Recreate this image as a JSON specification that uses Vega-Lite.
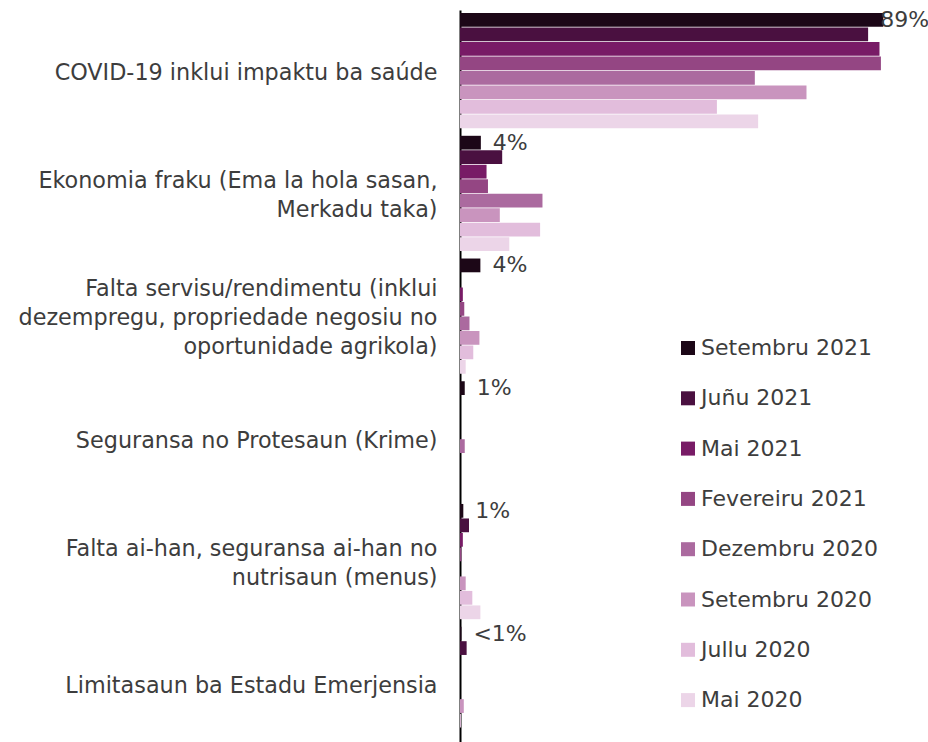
{
  "$schema": "https://vega.github.io/schema/vega-lite/v6.json",
  "width": 474,
  "height": 735,
  "autosize": {"type": "none"},
  "padding": {"left": 460, "top": 10, "right": 0, "bottom": 0},
  "background": "white",
  "config": {"view": {"stroke": null}, "font": "DejaVu Sans"},
  "data": {"values": [
    {"c": "COVID-19 inklui impaktu ba saúde", "p": "Setembru 2021", "v": 89.3, "l": "89%"},
    {"c": "COVID-19 inklui impaktu ba saúde", "p": "Juñu 2021", "v": 86.1},
    {"c": "COVID-19 inklui impaktu ba saúde", "p": "Mai 2021", "v": 88.5},
    {"c": "COVID-19 inklui impaktu ba saúde", "p": "Fevereiru 2021", "v": 88.8},
    {"c": "COVID-19 inklui impaktu ba saúde", "p": "Dezembru 2020", "v": 62.2},
    {"c": "COVID-19 inklui impaktu ba saúde", "p": "Setembru 2020", "v": 73.1},
    {"c": "COVID-19 inklui impaktu ba saúde", "p": "Jullu 2020", "v": 54.2},
    {"c": "COVID-19 inklui impaktu ba saúde", "p": "Mai 2020", "v": 62.9},
    {"c": "Ekonomia fraku (Ema la hola sasan,|Merkadu taka)", "p": "Setembru 2021", "v": 4.4, "l": "4%"},
    {"c": "Ekonomia fraku (Ema la hola sasan,|Merkadu taka)", "p": "Juñu 2021", "v": 8.9},
    {"c": "Ekonomia fraku (Ema la hola sasan,|Merkadu taka)", "p": "Mai 2021", "v": 5.6},
    {"c": "Ekonomia fraku (Ema la hola sasan,|Merkadu taka)", "p": "Fevereiru 2021", "v": 5.9},
    {"c": "Ekonomia fraku (Ema la hola sasan,|Merkadu taka)", "p": "Dezembru 2020", "v": 17.4},
    {"c": "Ekonomia fraku (Ema la hola sasan,|Merkadu taka)", "p": "Setembru 2020", "v": 8.4},
    {"c": "Ekonomia fraku (Ema la hola sasan,|Merkadu taka)", "p": "Jullu 2020", "v": 16.9},
    {"c": "Ekonomia fraku (Ema la hola sasan,|Merkadu taka)", "p": "Mai 2020", "v": 10.4},
    {"c": "Falta servisu/rendimentu (inklui|dezempregu, propriedade negosiu no|oportunidade agrikola)", "p": "Setembru 2021", "v": 4.3, "l": "4%"},
    {"c": "Falta servisu/rendimentu (inklui|dezempregu, propriedade negosiu no|oportunidade agrikola)", "p": "Juñu 2021", "v": 0},
    {"c": "Falta servisu/rendimentu (inklui|dezempregu, propriedade negosiu no|oportunidade agrikola)", "p": "Mai 2021", "v": 0.6},
    {"c": "Falta servisu/rendimentu (inklui|dezempregu, propriedade negosiu no|oportunidade agrikola)", "p": "Fevereiru 2021", "v": 0.9},
    {"c": "Falta servisu/rendimentu (inklui|dezempregu, propriedade negosiu no|oportunidade agrikola)", "p": "Dezembru 2020", "v": 2.0},
    {"c": "Falta servisu/rendimentu (inklui|dezempregu, propriedade negosiu no|oportunidade agrikola)", "p": "Setembru 2020", "v": 4.1},
    {"c": "Falta servisu/rendimentu (inklui|dezempregu, propriedade negosiu no|oportunidade agrikola)", "p": "Jullu 2020", "v": 2.8},
    {"c": "Falta servisu/rendimentu (inklui|dezempregu, propriedade negosiu no|oportunidade agrikola)", "p": "Mai 2020", "v": 1.2},
    {"c": "Seguransa no Protesaun (Krime)", "p": "Setembru 2021", "v": 1.0, "l": "1%"},
    {"c": "Seguransa no Protesaun (Krime)", "p": "Juñu 2021", "v": 0},
    {"c": "Seguransa no Protesaun (Krime)", "p": "Mai 2021", "v": 0},
    {"c": "Seguransa no Protesaun (Krime)", "p": "Fevereiru 2021", "v": 0},
    {"c": "Seguransa no Protesaun (Krime)", "p": "Dezembru 2020", "v": 1.0},
    {"c": "Seguransa no Protesaun (Krime)", "p": "Setembru 2020", "v": 0},
    {"c": "Seguransa no Protesaun (Krime)", "p": "Jullu 2020", "v": 0},
    {"c": "Seguransa no Protesaun (Krime)", "p": "Mai 2020", "v": 0},
    {"c": "Falta ai-han, seguransa ai-han no|nutrisaun (menus)", "p": "Setembru 2021", "v": 0.7, "l": "1%"},
    {"c": "Falta ai-han, seguransa ai-han no|nutrisaun (menus)", "p": "Juñu 2021", "v": 1.9},
    {"c": "Falta ai-han, seguransa ai-han no|nutrisaun (menus)", "p": "Mai 2021", "v": 0.6},
    {"c": "Falta ai-han, seguransa ai-han no|nutrisaun (menus)", "p": "Fevereiru 2021", "v": 0.3},
    {"c": "Falta ai-han, seguransa ai-han no|nutrisaun (menus)", "p": "Dezembru 2020", "v": 0},
    {"c": "Falta ai-han, seguransa ai-han no|nutrisaun (menus)", "p": "Setembru 2020", "v": 1.2},
    {"c": "Falta ai-han, seguransa ai-han no|nutrisaun (menus)", "p": "Jullu 2020", "v": 2.6},
    {"c": "Falta ai-han, seguransa ai-han no|nutrisaun (menus)", "p": "Mai 2020", "v": 4.3},
    {"c": "Limitasaun ba Estadu Emerjensia", "p": "Setembru 2021", "v": 0.3, "l": "<1%"},
    {"c": "Limitasaun ba Estadu Emerjensia", "p": "Juñu 2021", "v": 1.4},
    {"c": "Limitasaun ba Estadu Emerjensia", "p": "Mai 2021", "v": 0},
    {"c": "Limitasaun ba Estadu Emerjensia", "p": "Fevereiru 2021", "v": 0},
    {"c": "Limitasaun ba Estadu Emerjensia", "p": "Dezembru 2020", "v": 0},
    {"c": "Limitasaun ba Estadu Emerjensia", "p": "Setembru 2020", "v": 0.8},
    {"c": "Limitasaun ba Estadu Emerjensia", "p": "Jullu 2020", "v": 0.2},
    {"c": "Limitasaun ba Estadu Emerjensia", "p": "Mai 2020", "v": 0}
  ]},
  "encoding": {
    "y": {
      "field": "c", "type": "nominal",
      "sort": null,
      "scale": {"paddingInner": 0.061, "paddingOuter": 0.025},
      "axis": {
        "title": null, "ticks": false, "domain": true, "domainColor": "#000000", "domainWidth": 2,
        "labelFontSize": 22.3, "labelColor": "#3d3d3d", "labelPadding": 23,
        "labelLimit": 0, "labelLineHeight": 29,
        "labelOffset": {"expr": "2 - (length(split(datum.value, '|')) - 1) * 14.5"},
        "labelExpr": "split(datum.label, '|')"
      }
    },
    "yOffset": {
      "field": "p", "type": "nominal",
      "sort": ["Setembru 2021", "Juñu 2021", "Mai 2021", "Fevereiru 2021", "Dezembru 2020", "Setembru 2020", "Jullu 2020", "Mai 2020"],
      "scale": {"paddingInner": 0.05, "paddingOuter": 0}
    },
    "x": {"field": "v", "type": "quantitative", "scale": {"domain": [0, 100]}, "axis": null}
  },
  "layer": [
    {
      "mark": {"type": "bar"},
      "encoding": {
        "color": {
          "field": "p", "type": "nominal",
          "sort": ["Setembru 2021", "Juñu 2021", "Mai 2021", "Fevereiru 2021", "Dezembru 2020", "Setembru 2020", "Jullu 2020", "Mai 2020"],
          "scale": {
            "domain": ["Setembru 2021", "Juñu 2021", "Mai 2021", "Fevereiru 2021", "Dezembru 2020", "Setembru 2020", "Jullu 2020", "Mai 2020"],
            "range": ["#1c0717", "#4a1040", "#781b66", "#944683", "#ab6a9f", "#c994be", "#e2bddc", "#ecd5e8"]
          },
          "legend": {
            "title": null, "orient": "none", "legendX": 217, "legendY": 327,
            "padding": 0, "symbolType": "square", "symbolSize": 196, "symbolStrokeWidth": 0,
            "labelFontSize": 22, "labelColor": "#3d3d3d", "labelOffset": 2, "rowPadding": 28.3,
            "labelLimit": 0
          }
        }
      }
    },
    {
      "transform": [{"filter": "isValid(datum.l) && datum.v >= 50"}],
      "mark": {"type": "text", "align": "left", "baseline": "middle", "dx": -3, "fontSize": 22, "color": "#3d3d3d"},
      "encoding": {"text": {"field": "l"}}
    },
    {
      "transform": [{"filter": "isValid(datum.l) && datum.v < 50"}],
      "mark": {"type": "text", "align": "left", "baseline": "middle", "dx": 12, "fontSize": 22, "color": "#3d3d3d"},
      "encoding": {"text": {"field": "l"}}
    }
  ]
}
